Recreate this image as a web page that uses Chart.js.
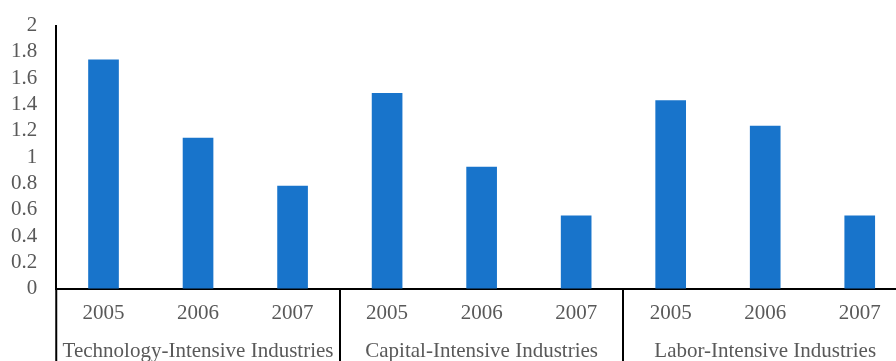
<!DOCTYPE html>
<html>
<head>
<meta charset="utf-8">
<script src="https://cdn.jsdelivr.net/npm/chart.js@4"></script>
<style>
  html, body { margin: 0; padding: 0; background: #fff; overflow: hidden; width: 896px; height: 361px; }
  #wrap { width: 932px; height: 371px; margin-left: -20px; margin-top: -6px; }
</style>
</head>
<body>
<div id="wrap"><canvas id="chart"></canvas></div>
<script>
// years repeated inside each industry group
const years = ['2005', '2006', '2007', '2005', '2006', '2007', '2005', '2006', '2007'];
const groups = ['Technology-Intensive Industries', 'Capital-Intensive Industries', 'Labor-Intensive Industries'];
const values = [1.74, 1.145, 0.78, 1.485, 0.925, 0.553, 1.43, 1.235, 0.553];
const yTicks = [0, 0.2, 0.4, 0.6, 0.8, 1, 1.2, 1.4, 1.6, 1.8, 2];

const textColor = '#595959';
const font = { family: "'Liberation Serif', 'Times New Roman', serif", size: 21 };

// group separators + axis line reaching down through the label rows
const separators = {
    id: 'separators',
    afterDraw(chart) {
        const ctx = chart.ctx;
        const x = chart.scales.x;
        const bottom = chart.height;
        ctx.save();
        ctx.strokeStyle = '#000';
        ctx.lineWidth = 2;
        ctx.beginPath();
        ctx.moveTo(x.left, chart.chartArea.bottom);
        ctx.lineTo(x.left, bottom);
        ctx.stroke();
        for (let i = 3; i < years.length; i += 3) {
            const px = Math.round(x.getPixelForValue(i - 0.5));
            ctx.beginPath();
            ctx.moveTo(px, chart.chartArea.bottom);
            ctx.lineTo(px, bottom);
            ctx.stroke();
        }
        ctx.restore();
    }
};

new Chart(document.getElementById('chart').getContext('2d'), {
    type: 'bar',
    data: {
        labels: years,
        datasets: [{
            data: values,
            backgroundColor: '#1874cb',
            borderWidth: 0,
            barThickness: 30
        }]
    },
    options: {
        responsive: true,
        maintainAspectRatio: false,
        animation: false,
        layout: { padding: { left: 12, right: 5, top: 9, bottom: 0 } },
        plugins: {
            legend: { display: false },
            tooltip: { enabled: false }
        },
        scales: {
            y: {
                min: 0,
                max: 2,
                afterBuildTicks: function(scale) {
                    scale.ticks = yTicks.map(v => ({ value: v }));
                },
                grid: { display: false, drawTicks: false },
                border: { display: true, color: '#000', width: 2 },
                ticks: {
                    color: textColor,
                    font: font,
                    padding: 19,
                    autoSkip: false,
                    callback: v => String(v)
                }
            },
            x: {
                grid: { display: false, drawTicks: false },
                border: { display: true, color: '#000', width: 2 },
                ticks: {
                    color: textColor,
                    font: font,
                    padding: 12,
                    maxRotation: 0,
                    autoSkip: false
                }
            },
            x2: {
                type: 'category',
                labels: groups,
                position: 'bottom',
                offset: true,
                grid: { display: false, drawTicks: false },
                border: { display: false },
                ticks: {
                    color: textColor,
                    font: font,
                    padding: 1,
                    maxRotation: 0,
                    autoSkip: false
                }
            }
        }
    },
    plugins: [separators]
});
</script>
</body>
</html>
